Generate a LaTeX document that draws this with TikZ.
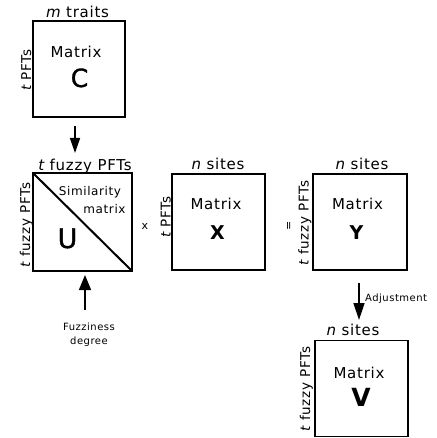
\documentclass[tikz,border=0pt]{standalone}
\usepackage{fontspec}
\setmainfont{DejaVu Sans}[LetterSpace=5]
\newfontfamily\medfont{DejaVu Sans}[FakeBold=1.3]
\usetikzlibrary{arrows.meta}
\begin{document}
\begin{tikzpicture}[x=1pt,y=-1pt,
  mbox/.style={draw, line width=1.6pt, inner sep=0pt, outer sep=0pt},
  lbl/.style={inner sep=0pt, anchor=base, font=\fontsize{15}{18}\selectfont},
  side/.style={inner sep=0pt, anchor=base, rotate=90, font=\fontsize{13.5}{16}\selectfont},
  mtx/.style={inner sep=0pt, anchor=base, font=\fontsize{15}{18}\selectfont},
  big/.style={inner sep=0pt, anchor=base, font=\fontsize{25}{28}\selectfont\medfont},
  bigb/.style={inner sep=0pt, anchor=base, font=\fontsize{19}{22}\selectfont\bfseries},
  simtxt/.style={inner sep=0pt, anchor=base, font=\fontsize{12}{14}\selectfont},
  small/.style={inner sep=0pt, font=\fontsize{10}{14}\selectfont},
  arr/.style={line width=1.5pt, -{Triangle[length=15pt,width=10pt]}},
]
\useasboundingbox (0,0) rectangle (436,438);
% boxes
\node[mbox, minimum width=92pt, minimum height=96pt] (C) at (79,69) {};
\node[mbox, minimum width=99pt, minimum height=98pt] (U) at (82.5,222) {};
\node[mbox, minimum width=93pt, minimum height=96pt] (X) at (218.5,222) {};
\node[mbox, minimum width=94pt, minimum height=96pt] (Y) at (360,222) {};
\node[mbox, minimum width=93pt, minimum height=96pt] (V) at (361.5,388.5) {};
\draw[line width=2pt] (U.north west) -- (U.south east);
% top labels
\node[lbl] (Ct) at (77.5,18) {{\itshape m} traits};
\node[lbl] (Ut) at (85,170.5) {{\itshape t} fuzzy PFTs};
\node[lbl] (Xt) at (218,170) {{\itshape n} sites};
\node[lbl] (Yt) at (362,170) {{\itshape n} sites};
\node[lbl] (Vt) at (353,335.5) {{\itshape n} sites};
% side labels
\node[side] (Cs) at (31,70) {{\itshape t} PFTs};
\node[side] (Us) at (30,225) {{\itshape t} fuzzy PFTs};
\node[side] (Xs) at (170.5,217) {{\itshape t} PFTs};
\node[side] (Ys) at (308.5,223) {{\itshape t} fuzzy PFTs};
\node[side] (Vs) at (310,389) {{\itshape t} fuzzy PFTs};
% inner texts
\node[mtx] (Cm) at (76,58) {Matrix};
\node[big] (Cl) at (79.5,87) {C};
\node[simtxt] (Us1) at (90,195) {Similarity};
\node[simtxt] (Us2) at (104.5,213) {matrix};
\node[big, font=\fontsize{27}{30}\selectfont\medfont] (Ul) at (67.5,248) {U};
\node[mtx] (Xm) at (216,209) {Matrix};
\node[bigb] (Xl) at (217.5,239) {X};
\node[mtx] (Ym) at (357.5,209) {Matrix};
\node[bigb] (Yl) at (356.5,239) {Y};
\node[mtx] (Vm) at (359,378) {Matrix};
\node[bigb, font=\fontsize{25}{28}\selectfont\bfseries] (Vl) at (361,406) {V};
% operators
\node[inner sep=0pt, font=\fontsize{11}{12}\selectfont] (times) at (145,226) {x};
\node[inner sep=0pt, rotate=90, font=\fontsize{11}{12}\selectfont] (eq) at (289.5,226) {=};
% arrows and labels
\coordinate (a1s) at (75,126);
\coordinate (a1e) at (75,153);
\draw[arr] (a1s) -- (a1e);
\node[small, align=center] (fz) at (89,334.5) {Fuzziness\\degree};
\coordinate (a2s) at (85,310);
\coordinate (a2e) at (85,275);
\draw[line width=1.5pt, -{Triangle[length=15pt,width=12pt]}] (a2s) -- (a2e);
\coordinate (a3s) at (359,283);
\coordinate (a3e) at (359,320);
\draw[line width=1.5pt, -{Triangle[length=17pt,width=11pt]}] (a3s) -- (a3e);
\node[small, anchor=base west] (adj) at (365,301) {Adjustment};
\end{tikzpicture}
\end{document}
